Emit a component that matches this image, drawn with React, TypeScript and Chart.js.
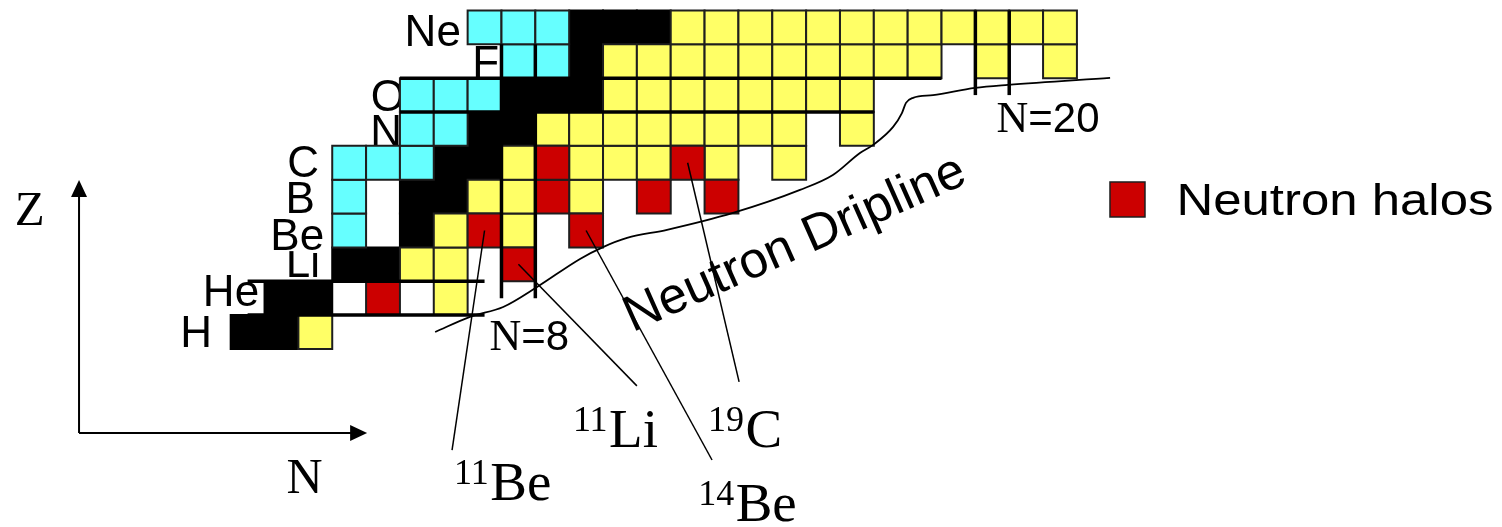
import React, { useEffect, useRef } from "react";
import { Chart, registerables } from "chart.js";

Chart.register(...registerables);

// ---- Data: chart of light nuclides (rows Z = 1..10, columns N as drawn) ----
const elementSymbols = ["H", "He", "Li", "Be", "B", "C", "N", "O", "F", "Ne"];

const stableN: number[][] = [
  [0, 1], [1, 2], [3, 4], [5], [5, 6], [6, 7], [7, 8], [8, 9, 10], [10], [10, 11, 12],
];
const protonRichN: number[][] = [
  [], [], [], [3], [3], [3, 4, 5], [5, 6], [5, 6, 7], [8, 9], [7, 8, 9],
];
const neutronRichN: number[][] = [
  [2],
  [6],
  [5, 6],
  [6, 8],
  [7, 8, 10],
  [8, 10, 11, 12, 14, 16],
  [9, 10, 11, 12, 13, 14, 15, 16, 18],
  [11, 12, 13, 14, 15, 16, 17, 18],
  [11, 12, 13, 14, 15, 16, 17, 18, 19, 20, 22, 24],
  [13, 14, 15, 16, 17, 18, 19, 20, 21, 22, 23, 24],
];
const haloN: number[][] = [[], [4], [8], [7, 10], [9, 12, 14], [9, 13], [], [], [], []];

// Neutron dripline (N, Z)
const driplineN = [5.54, 6.57, 7.55, 8.55, 9.82, 10.5, 11.21, 12.39, 14.34, 16.32, 17.29, 18.09, 18.48, 19.07, 19.33, 19.45, 19.66, 20.25, 21.49, 22.46, 25.48];
const driplineZ = [1.0, 1.45, 1.74, 2.33, 3.16, 3.51, 3.78, 4.02, 4.52, 5.2, 5.64, 6.29, 6.53, 7.06, 7.47, 7.77, 7.92, 8.0, 8.21, 8.3, 8.51];

// Labelled halo nuclei
const haloMass = ["11", "11", "14", "19"];
const haloSymbol = ["Be", "Li", "Be", "C"];
const haloCellN = [7, 8, 10, 13];
const haloCellZ = [4, 3, 4, 6];

// Magic-number lines: [N1, Z1, N2, Z2]
const magicSegments: number[][] = [
  [0, 2.5, 7, 2.5],
  [0, 1.5, 7, 1.5],
  [4.5, 8.5, 20.5, 8.5],
  [4.5, 7.5, 18.5, 7.5],
  [7.5, 2.0, 7.5, 9.5],
  [8.5, 2.0, 8.5, 9.5],
  [21.5, 8.0, 21.5, 10.5],
  [22.5, 8.0, 22.5, 10.5],
];

// ---- Annotation placement (in N/Z axis units) ----
const elementLabelAt = {
  n: [-1.05, 0.34, 2.14, 2.26, 1.99, 2.11, 4.56, 4.65, 7.43, 6.3],
  z: [0.56, 1.77, 2.63, 3.42, 4.52, 5.58, 6.5, 7.53, 8.54, 9.45],
};
const pointerEnd = { n: [6.04, 11.5, 13.72, 14.52], z: [-2.49, -0.59, -2.78, -0.47] };
const haloLabelAt = { n: [6.1, 9.61, 13.31, 13.6], z: [-3.96, -2.4, -4.59, -2.4] };
const axisAt = { originN: -4.98, originZ: -1.98, topZ: 5.49, rightN: 3.53 };
const axisLabelAt = { zN: -6.88, zZ: 4.16, nN: 1.15, nZ: -3.755 };
const shellLabelAt = { n8: [7.146, 0.47], n20: [22.124, 6.91] };
const driplineLabelAt = [11.37, 0.99];
const legendAt = { boxN: 25.994, boxZ: 4.916, textN: 27.44, textZ: 4.458 };

const SANS = '"Liberation Sans", Arial, Helvetica, sans-serif';
const SERIF = '"Liberation Serif", "Times New Roman", Times, serif';

const COLORS = {
  stable: "#000000",
  protonRich: "#66FFFF",
  neutronRich: "#FFFF66",
  halo: "#CC0000",
  border: "#1e1e1e",
};

const cellPoints = (lists: number[][]) =>
  lists.flatMap((ns, i) => ns.map((n) => ({ x: n, y: i + 1 })));

const cellRadius = (ctx: any) => {
  const x = ctx.chart.scales.x;
  return Math.abs(x.getPixelForValue(1) - x.getPixelForValue(0)) * Math.SQRT1_2;
};

const cellDataset = (label: string, color: string, lists: number[][], border = COLORS.border) => ({
  label,
  data: cellPoints(lists),
  pointStyle: "rect",
  pointRadius: cellRadius,
  pointHoverRadius: cellRadius,
  pointBackgroundColor: color,
  pointBorderColor: border,
  pointBorderWidth: 2,
  showLine: false,
});

const lineDataset = (label: string, pts: { x: number; y: number }[], width: number, extra: any = {}) => ({
  label,
  data: pts,
  showLine: true,
  borderColor: "#000",
  borderWidth: width,
  pointRadius: 0,
  pointHoverRadius: 0,
  fill: false,
  ...extra,
});

const annotationPlugin = {
  id: "nuclideAnnotations",
  beforeDatasetsDraw(chart: any) {
    const { ctx } = chart;
    const X = (v: number) => chart.scales.x.getPixelForValue(v);
    const Y = (v: number) => chart.scales.y.getPixelForValue(v);
    ctx.save();
    const size = 44;
    ctx.font = `${size}px ${SANS}`;
    ctx.textAlign = "right";
    ctx.textBaseline = "alphabetic";
    elementSymbols.forEach((s, i) => {
      const w = ctx.measureText(s).width;
      const xr = X(elementLabelAt.n[i]);
      const yb = Y(elementLabelAt.z[i]);
      ctx.fillStyle = "#fff";
      ctx.fillRect(xr - w, yb - size * 0.74, w, size * 0.74 + 1);
      ctx.fillStyle = "#000";
      ctx.fillText(s, xr, yb);
    });
    ctx.restore();
  },
  afterDatasetsDraw(chart: any) {
    const { ctx } = chart;
    const X = (v: number) => chart.scales.x.getPixelForValue(v);
    const Y = (v: number) => chart.scales.y.getPixelForValue(v);
    ctx.save();
    ctx.fillStyle = "#000";
    ctx.strokeStyle = "#000";
    ctx.textBaseline = "alphabetic";
    ctx.textAlign = "left";

    // Axes arrows
    const ox = X(axisAt.originN);
    const oy = Y(axisAt.originZ);
    const ty = Y(axisAt.topZ);
    const rx = X(axisAt.rightN);
    ctx.lineWidth = 2;
    ctx.beginPath();
    ctx.moveTo(ox, oy);
    ctx.lineTo(ox, ty + 12);
    ctx.moveTo(ox, oy);
    ctx.lineTo(rx - 12, oy);
    ctx.stroke();
    ctx.beginPath();
    ctx.moveTo(ox, ty);
    ctx.lineTo(ox - 8, ty + 17);
    ctx.lineTo(ox + 8, ty + 17);
    ctx.closePath();
    ctx.fill();
    ctx.beginPath();
    ctx.moveTo(rx, oy);
    ctx.lineTo(rx - 17, oy - 8);
    ctx.lineTo(rx - 17, oy + 8);
    ctx.closePath();
    ctx.fill();

    ctx.font = `49px ${SERIF}`;
    ctx.fillText("Z", X(axisLabelAt.zN), Y(axisLabelAt.zZ));
    ctx.font = `50px ${SERIF}`;
    ctx.fillText("N", X(axisLabelAt.nN), Y(axisLabelAt.nZ));

    // Halo labels with superscript mass numbers
    haloMass.forEach((m, i) => {
      const x0 = X(haloLabelAt.n[i]);
      const yb = Y(haloLabelAt.z[i]);
      ctx.font = `36px ${SERIF}`;
      ctx.fillText(m, x0, yb - 16);
      const w = ctx.measureText(m).width;
      ctx.font = `55px ${SERIF}`;
      ctx.fillText(haloSymbol[i], x0 + w + 1.5, yb);
    });

    // Shell closure labels
    const shell = (num: string, at: number[]) => {
      const x0 = X(at[0]);
      const yb = Y(at[1]);
      ctx.font = `44px ${SERIF}`;
      ctx.fillText("N", x0, yb);
      const w = ctx.measureText("N").width;
      ctx.font = `42px ${SANS}`;
      ctx.fillText("=" + num, x0 + w, yb);
    };
    shell("8", shellLabelAt.n8);
    shell("20", shellLabelAt.n20);

    // Rotated dripline label
    ctx.save();
    ctx.translate(X(driplineLabelAt[0]), Y(driplineLabelAt[1]));
    ctx.rotate((-24 * Math.PI) / 180);
    ctx.font = `51px ${SANS}`;
    ctx.fillText("Neutron Dripline", 0, 0);
    ctx.restore();

    // Legend
    const bx = X(legendAt.boxN);
    const by = Y(legendAt.boxZ);
    ctx.fillStyle = COLORS.halo;
    ctx.fillRect(bx - 17.5, by - 17.5, 35, 35);
    ctx.lineWidth = 1.5;
    ctx.strokeStyle = COLORS.border;
    ctx.strokeRect(bx - 17.5, by - 17.5, 35, 35);
    ctx.fillStyle = "#000";
    ctx.font = `45px ${SANS}`;
    const lt = "Neutron halos";
    const lw = ctx.measureText(lt).width;
    ctx.save();
    ctx.translate(X(legendAt.textN), Y(legendAt.textZ));
    ctx.scale(317 / lw, 1);
    ctx.fillText(lt, 0, 0);
    ctx.restore();

    ctx.restore();
  },
};

export default function App() {
  const canvasRef = useRef<HTMLCanvasElement | null>(null);

  useEffect(() => {
    if (!canvasRef.current) return;

    const dripline = driplineN.map((n, i) => ({ x: n, y: driplineZ[i] }));
    const pointerSets = haloMass.map((m, i) =>
      lineDataset(
        `${m}${haloSymbol[i]} pointer`,
        [
          { x: haloCellN[i], y: haloCellZ[i] },
          { x: pointerEnd.n[i], y: pointerEnd.z[i] },
        ],
        1.5
      )
    );
    const magicSets = magicSegments.map((s, i) =>
      lineDataset(`magic ${i}`, [{ x: s[0], y: s[1] }, { x: s[2], y: s[3] }], 3.5, {
        borderCapStyle: "butt",
      })
    );

    const chart = new Chart(canvasRef.current, {
      type: "scatter",
      data: {
        datasets: [
          lineDataset("Neutron dripline", dripline, 1.8, { cubicInterpolationMode: "monotone" }),
          ...pointerSets,
          ...magicSets,
          cellDataset("Neutron halos", COLORS.halo, haloN),
          cellDataset("Neutron rich", COLORS.neutronRich, neutronRichN),
          cellDataset("Proton rich", COLORS.protonRich, protonRichN),
          cellDataset("Stable", COLORS.stable, stableN, "#000000"),
        ] as any,
      },
      options: {
        animation: false,
        responsive: true,
        maintainAspectRatio: false,
        events: [],
        layout: { padding: 0 },
        plugins: {
          legend: { display: false },
          tooltip: { enabled: false },
        },
        scales: {
          x: { type: "linear", min: -7.315, max: 37.058, display: false },
          y: { type: "linear", min: -4.759, max: 10.809, display: false },
        },
      },
      plugins: [annotationPlugin],
    });

    return () => chart.destroy();
  }, []);

  return (
    <div style={{ position: "absolute", left: 0, top: 0, width: 1502, height: 527, background: "#fff" }}>
      <canvas ref={canvasRef} />
    </div>
  );
}
